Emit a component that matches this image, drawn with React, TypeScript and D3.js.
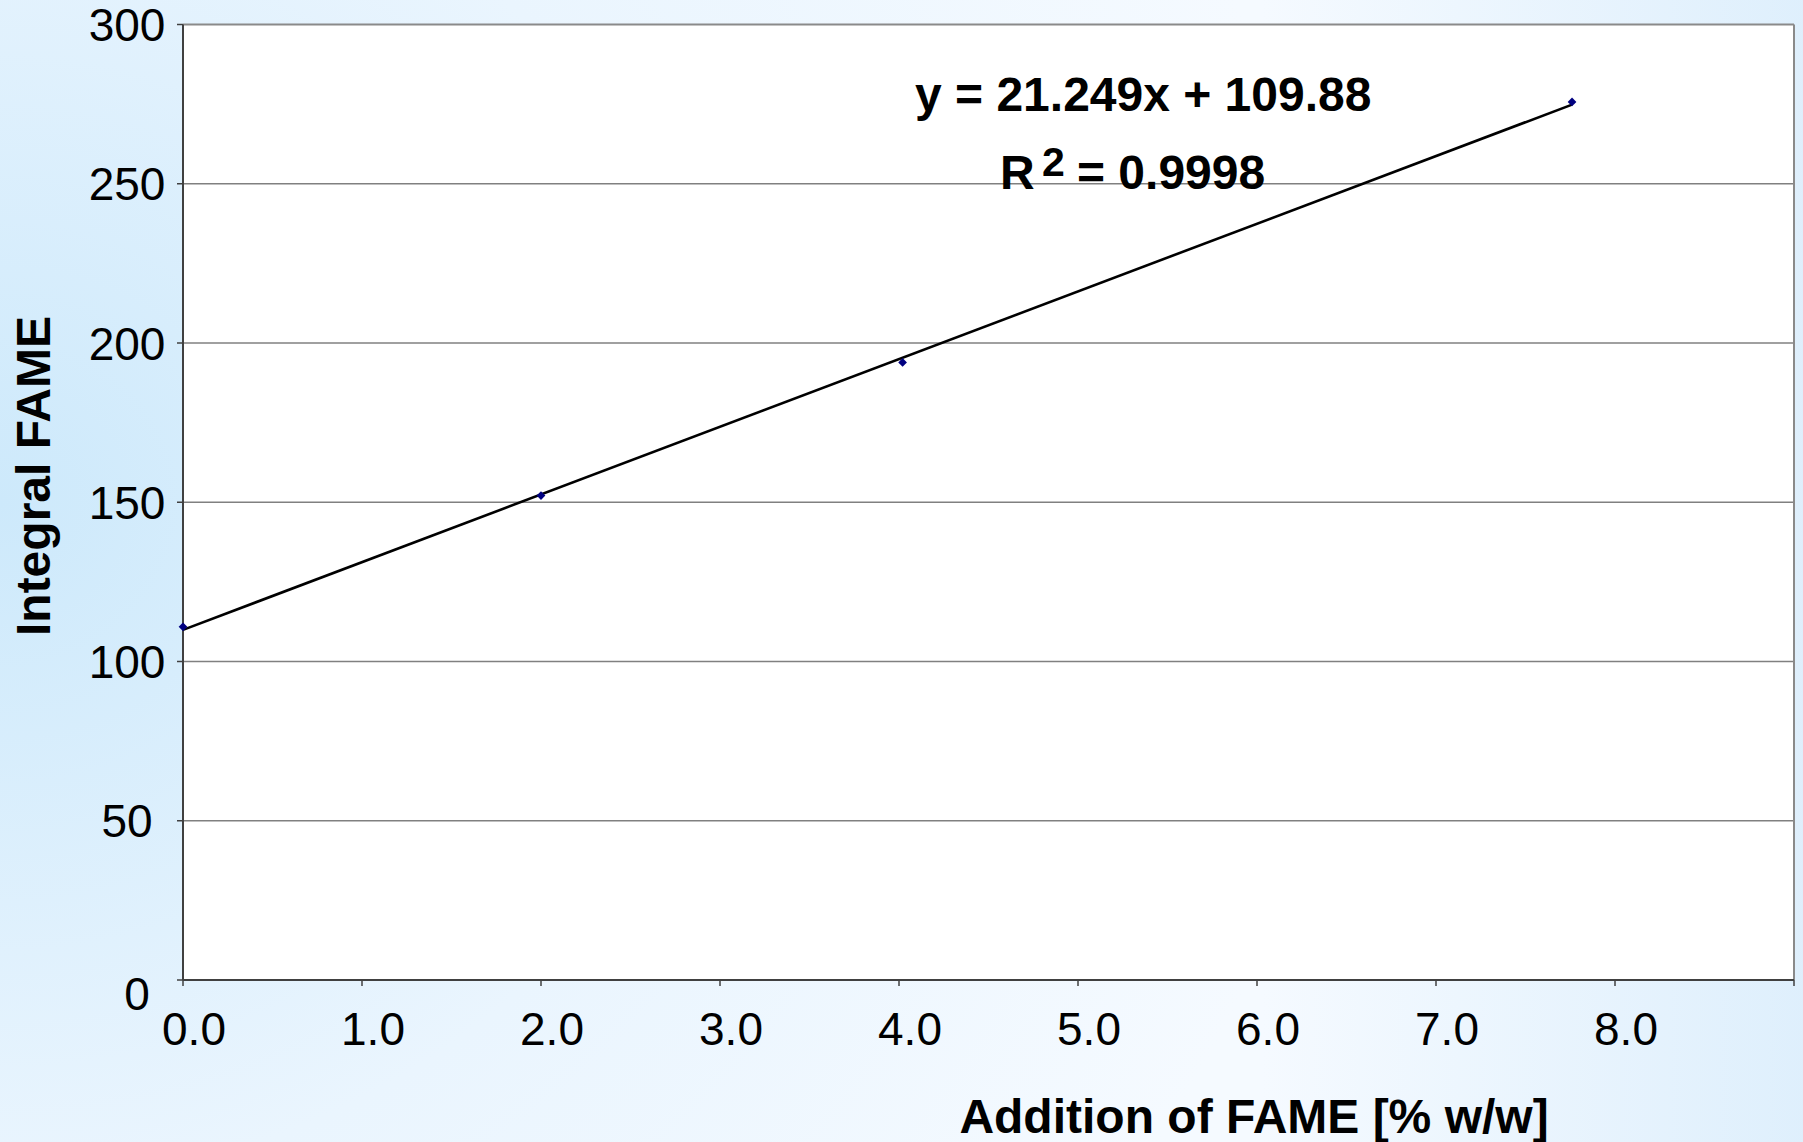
import React from "react";
import * as d3 from "d3";

const fameAdded = [0, 2.0, 4.02, 7.76];
const integralFame = [110.9, 152.1, 193.9, 275.7];

const xTicks = [0, 1, 2, 3, 4, 5, 6, 7, 8, 9];
const xTickLabels = ["0.0", "1.0", "2.0", "3.0", "4.0", "5.0", "6.0", "7.0", "8.0", ""];
const yTicks = [0, 50, 100, 150, 200, 250, 300];

const equationText = "y = 21.249x + 109.88";
const r2Value = "= 0.9998";

const W = 1803;
const H = 1142;
const font = "'Liberation Sans', Arial, sans-serif";

const App: React.FC = () => {
  const x = d3.scaleLinear().domain([0, 9]).range([183, 1794]);
  const y = d3.scaleLinear().domain([0, 300]).range([980, 24.5]);

  // least squares fit, like the excel trendline
  const mx = d3.mean(fameAdded) as number;
  const my = d3.mean(integralFame) as number;
  const sxy = d3.sum(fameAdded, (v, i) => (v - mx) * (integralFame[i] - my));
  const sxx = d3.sum(fameAdded, (v) => (v - mx) * (v - mx));
  const slope = sxy / sxx;
  const icpt = my - slope * mx;
  const xMin = d3.min(fameAdded) as number;
  const xMax = d3.max(fameAdded) as number;

  const fitLine = d3
    .line<number>()
    .x((d) => x(d))
    .y((d) => y(slope * d + icpt))([xMin, xMax]);

  const diamond = d3.symbol().type(d3.symbolSquare).size(38)();

  return (
    <>
      <style>{"body{margin:0;}"}</style>
      <svg width={W} height={H} style={{ display: "block" }}>
        <defs>
          <radialGradient id="bgRad" cx="0" cy="0.44" r="0.75" gradientTransform="translate(0,0.44) scale(1,1.45) translate(0,-0.44)">
            <stop offset="0" stopColor="#cde9fb" />
            <stop offset="0.55" stopColor="#eaf5fe" />
            <stop offset="1" stopColor="#f5faff" />
          </radialGradient>
          <linearGradient id="bgRight" x1="0" x2="1" y1="0" y2="0">
            <stop offset="0.7" stopColor="#dceefc" stopOpacity="0" />
            <stop offset="1" stopColor="#dceefc" stopOpacity="0.9" />
          </linearGradient>
        </defs>
        <rect width={W} height={H} fill="url(#bgRad)" />
        <rect width={W} height={H} fill="url(#bgRight)" />

        {/* plot area */}
        <rect x={x(0)} y={y(300)} width={x(9) - x(0)} height={y(0) - y(300)} fill="#ffffff" />

        {/* grid */}
        {yTicks
          .filter((t) => t > 0 && t < 300)
          .map((t) => (
            <line key={"g" + t} x1={x(0)} x2={x(9)} y1={y(t)} y2={y(t)} stroke="#808080" strokeWidth={1.6} />
          ))}

        {/* top/right border */}
        <line x1={x(0)} x2={x(9)} y1={y(300)} y2={y(300)} stroke="#8a8a8a" strokeWidth={2} />
        <line x1={x(9)} x2={x(9)} y1={y(300)} y2={y(0)} stroke="#8a8a8a" strokeWidth={2} />

        {/* axes */}
        <line x1={x(0)} x2={x(9)} y1={y(0)} y2={y(0)} stroke="#404040" strokeWidth={2} />
        <line x1={x(0)} x2={x(0)} y1={y(300)} y2={y(0)} stroke="#404040" strokeWidth={2} />
        {xTicks.map((t) => (
          <line key={"xt" + t} x1={x(t)} x2={x(t)} y1={y(0)} y2={y(0) + 6} stroke="#404040" strokeWidth={1.5} />
        ))}
        {yTicks.map((t) => (
          <line key={"yt" + t} x1={x(0) - 6} x2={x(0)} y1={y(t)} y2={y(t)} stroke="#404040" strokeWidth={1.5} />
        ))}

        {/* tick labels */}
        {xTicks.map((t, i) => (
          <text key={"xl" + t} x={x(t) + 11} y={1045} textAnchor="middle" fontFamily={font} fontSize={46} fill="#000">
            {xTickLabels[i]}
          </text>
        ))}
        {yTicks.map((t) => (
          <text
            key={"yl" + t}
            x={t === 0 ? 137 : 127}
            y={y(t) + 16.5 + (t === 0 ? 13 : 0)}
            textAnchor="middle"
            fontFamily={font}
            fontSize={46}
            fill="#000"
          >
            {t}
          </text>
        ))}

        {/* trendline + points */}
        <path d={fitLine || ""} fill="none" stroke="#000" strokeWidth={2.6} />
        {fameAdded.map((v, i) => (
          <path
            key={"p" + i}
            d={diamond || ""}
            transform={`translate(${x(v)},${y(integralFame[i])}) rotate(45)`}
            fill="#000080"
          />
        ))}

        {/* equation */}
        <text x={915} y={111} fontFamily={font} fontSize={48} fontWeight="bold" fill="#000">
          {equationText}
        </text>
        <text x={1000} y={189} fontFamily={font} fontSize={48} fontWeight="bold" fill="#000">
          R
        </text>
        <text x={1042} y={176} fontFamily={font} fontSize={41} fontWeight="bold" fill="#000">
          2
        </text>
        <text x={1077} y={189} fontFamily={font} fontSize={48} fontWeight="bold" fill="#000">
          {r2Value}
        </text>

        {/* axis titles */}
        <text x={1254} y={1133} textAnchor="middle" fontFamily={font} fontSize={48} fontWeight="bold" fill="#000">
          Addition of FAME [% w/w]
        </text>
        <text
          transform="translate(50,476) rotate(-90)"
          textAnchor="middle"
          fontFamily={font}
          fontSize={48}
          fontWeight="bold"
          fill="#000"
        >
          Integral FAME
        </text>
      </svg>
    </>
  );
};

export default App;
